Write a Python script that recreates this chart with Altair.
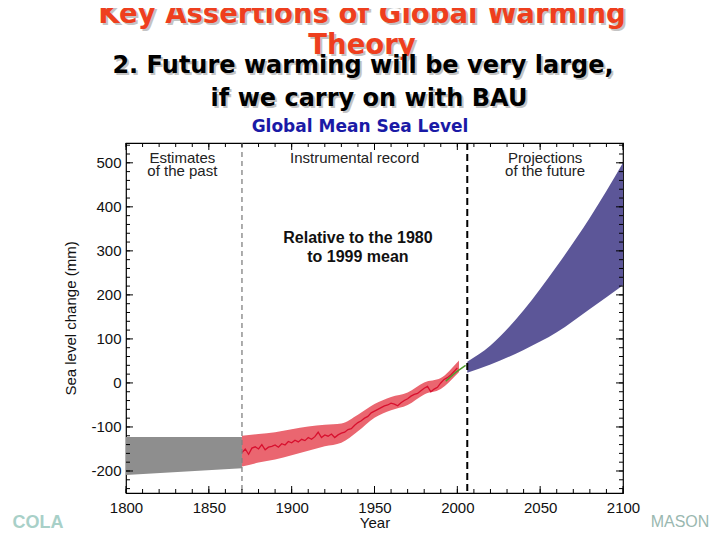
import altair as alt
import pandas as pd

# ---------------- data ----------------
gray_years = [1800, 1870]
gray_lo = [-209, -194]
gray_hi = [-123, -123]

red_band_years = [1870, 1880, 1890, 1900, 1910, 1920, 1930, 1940, 1950, 1960, 1970, 1980, 1990, 2000, 2001]
red_lo = [-190, -181, -174, -164, -154, -144, -136, -110, -79, -62, -50, -26, -14, 21, 25]
red_hi = [-120, -116, -112, -105, -99, -95, -92, -72, -48, -32, -22, 1, 11, 47, 51]

red_years = [1870, 1872, 1874, 1876, 1878, 1880, 1882, 1884, 1886, 1888,
             1890, 1892, 1894, 1896, 1898, 1900, 1902, 1904, 1906, 1908,
             1910, 1912, 1914, 1916, 1918, 1920, 1922, 1924, 1926, 1928,
             1930, 1932, 1934, 1936, 1938, 1940, 1942, 1944, 1946, 1948,
             1950, 1952, 1954, 1956, 1958, 1960, 1962, 1964, 1966, 1968,
             1970, 1972, 1974, 1976, 1978, 1980, 1982, 1984, 1986, 1988,
             1990, 1992, 1994, 1996, 1998, 2000]
red_vals = [-158, -150, -162, -148, -145, -150, -140, -152, -146, -144,
            -141, -146, -138, -141, -133, -136, -130, -134, -128, -131,
            -124, -128, -122, -112, -124, -118, -121, -116, -124, -118,
            -114, -112, -106, -104, -96, -90, -86, -80, -76, -68,
            -64, -60, -56, -52, -50, -46, -48, -52, -45, -40,
            -36, -30, -26, -24, -18, -12, -8, -20, -14, -10,
            0, 8, 12, 18, 26, 34]

green_years = [1993, 1996, 1999, 2002, 2005]
green_vals = [4, 14, 24, 32, 40]

blue_years = [2006, 2020, 2040, 2060, 2080, 2100]
blue_lo = [23, 42, 75, 115, 168, 222]
blue_hi = [48, 85, 165, 265, 375, 500]

divider_years = [1870]
present_year = [2006]

x_major = [1800, 1850, 1900, 1950, 2000, 2050, 2100]
x_minor = list(range(1800, 2101, 10))
y_major = [-200, -100, 0, 100, 200, 300, 400, 500]
y_minor = list(range(-240, 541, 20))

region_text = ["Estimates\nof the past", "Instrumental record", "Projections\nof the future"]
region_x = [1834, 1938, 2053]
region_y = [511, 511, 511]

note_text = ["Relative to the 1980\nto 1999 mean"]
note_x = [1940]
note_y = [330]

W, H = 497, 350
FONT = "Liberation Sans"
TFONT = "DejaVu Sans"

xs = alt.Scale(domain=[1800, 2100], nice=False, zero=False)
ys = alt.Scale(domain=[-250, 545], nice=False, zero=False)


def X(ax=None):
    if ax is None:
        return alt.X("year:Q", scale=xs)
    return alt.X("year:Q", scale=xs, axis=ax)


xax = alt.Axis(values=x_major, ticks=False, domain=False, grid=False, labelFontSize=15,
               labelFont=FONT, labelColor="#111", labelPadding=7, labelExpr="datum.value",
               labelFlush=False, labelOverlap=False, labelBound=False, title="Year",
               titleFontSize=15, titleFont=FONT, titleFontWeight="normal", titleColor="#111",
               titlePadding=0)
yax = alt.Axis(values=y_major, ticks=False, domain=False, grid=False, labelFontSize=15,
               labelFont=FONT, labelColor="#111", labelPadding=5, labelExpr="datum.value",
               labelFlush=False, labelOverlap=False, labelBound=False,
               title="Sea level change (mm)", titleFontSize=15, titleFont=FONT,
               titleFontWeight="normal", titleColor="#111", titlePadding=12)

gray_df = pd.DataFrame({"year": gray_years, "lo": gray_lo, "hi": gray_hi})
redb_df = pd.DataFrame({"year": red_band_years, "lo": red_lo, "hi": red_hi})
red_df = pd.DataFrame({"year": red_years, "v": red_vals})
green_df = pd.DataFrame({"year": green_years, "v": green_vals})
blue_df = pd.DataFrame({"year": blue_years, "lo": blue_lo, "hi": blue_hi})

gray = alt.Chart(gray_df).mark_area(color="#8e8e8e").encode(
    x=X(xax), y=alt.Y("lo:Q", scale=ys, axis=yax), y2="hi:Q")
redb = alt.Chart(redb_df).mark_area(color="#ea6670", interpolate="monotone").encode(
    x=X(), y=alt.Y("lo:Q", scale=ys), y2="hi:Q")
redl = alt.Chart(red_df).mark_line(color="#d8102e", strokeWidth=1.3).encode(
    x=X(), y=alt.Y("v:Q", scale=ys))
greenl = alt.Chart(green_df).mark_line(color="#4f9a2e", strokeWidth=1.5).encode(
    x=X(), y=alt.Y("v:Q", scale=ys))
blue = alt.Chart(blue_df).mark_area(color="#5c5698", interpolate="monotone").encode(
    x=X(), y=alt.Y("lo:Q", scale=ys), y2="hi:Q")

div1 = alt.Chart(pd.DataFrame({"year": divider_years})).mark_rule(
    color="#808080", strokeWidth=1.3, strokeDash=[5, 4]).encode(
    x=X(), y=alt.value(0), y2=alt.value(H))
div2 = alt.Chart(pd.DataFrame({"year": present_year})).mark_rule(
    color="#000000", strokeWidth=2, strokeDash=[7, 4]).encode(
    x=X(), y=alt.value(0), y2=alt.value(H))


def xticks(vals, length):
    d = pd.DataFrame({"year": vals})
    b = alt.Chart(d).mark_rule(color="black", strokeWidth=1).encode(
        x=X(), y=alt.value(H), y2=alt.value(H - length))
    t = alt.Chart(d).mark_rule(color="black", strokeWidth=1).encode(
        x=X(), y=alt.value(0), y2=alt.value(length))
    return [b, t]


def yticks(vals, length):
    d = pd.DataFrame({"mm": vals})
    l = alt.Chart(d).mark_rule(color="black", strokeWidth=1).encode(
        y=alt.Y("mm:Q", scale=ys), x=alt.value(0), x2=alt.value(length))
    r = alt.Chart(d).mark_rule(color="black", strokeWidth=1).encode(
        y=alt.Y("mm:Q", scale=ys), x=alt.value(W), x2=alt.value(W - length))
    return [l, r]


tick_layers = xticks(x_minor, 4) + xticks(x_major, 7) + yticks(y_minor, 4) + yticks(y_major, 7)

region = alt.Chart(pd.DataFrame({"year": region_x, "mm": region_y, "t": region_text})).mark_text(
    font=FONT, fontSize=15, color="#222", align="center", baseline="middle",
    lineBreak="\n", lineHeight=13).encode(
    x=X(), y=alt.Y("mm:Q", scale=ys), text="t:N")
note = alt.Chart(pd.DataFrame({"year": note_x, "mm": note_y, "t": note_text})).mark_text(
    font=FONT, fontSize=16, fontWeight="bold", color="#111", align="center",
    baseline="middle", lineBreak="\n", lineHeight=19).encode(
    x=X(), y=alt.Y("mm:Q", scale=ys), text="t:N")

# ---------- slide titles (pixel positions relative to plot origin) ----------
one = pd.DataFrame({"a": [0]})


def label(text, px, py, size, color, weight="bold", shadow=False, font=TFONT):
    layers = []
    if shadow:
        layers.append(alt.Chart(one).mark_text(
            text=text, font=font, fontSize=size, fontWeight=weight, color="#c4c4c4",
            align="center", baseline="alphabetic").encode(
            x=alt.value(px - 126 + 2), y=alt.value(py - 143 + 2)))
    layers.append(alt.Chart(one).mark_text(
        text=text, font=font, fontSize=size, fontWeight=weight, color=color,
        align="center", baseline="alphabetic").encode(
        x=alt.value(px - 126), y=alt.value(py - 143)))
    return layers


titles = (label("Key Assertions of Global Warming", 362, 23, 27.5, "#ee3f1e", shadow=True)
          + label("Theory", 362, 54, 27.5, "#ee3f1e", shadow=True)
          + label("2. Future warming will be very large,", 363, 73, 24, "#000000", shadow=True)
          + label("if we carry on with BAU", 369, 106, 24, "#000000", shadow=True)
          + label("Global Mean Sea Level", 360, 132, 17, "#1a1aa6")
          + label("COLA", 38, 528, 18, "#a8d0c8", font=FONT)
          + label("MASON", 680, 527, 16, "#9ab8b0", weight="normal", font=FONT))

chart = alt.layer(gray, redb, redl, greenl, blue, div1, div2, *tick_layers, region, note, *titles).properties(
    width=W, height=H,
    autosize=alt.AutoSizeParams(type="none"),
    padding={"left": 118, "top": 135, "right": 89, "bottom": 39},
    background="white",
).configure_view(stroke="black", strokeWidth=1.2)

chart.save("out.html", embed_options={"renderer": "svg", "actions": False})
